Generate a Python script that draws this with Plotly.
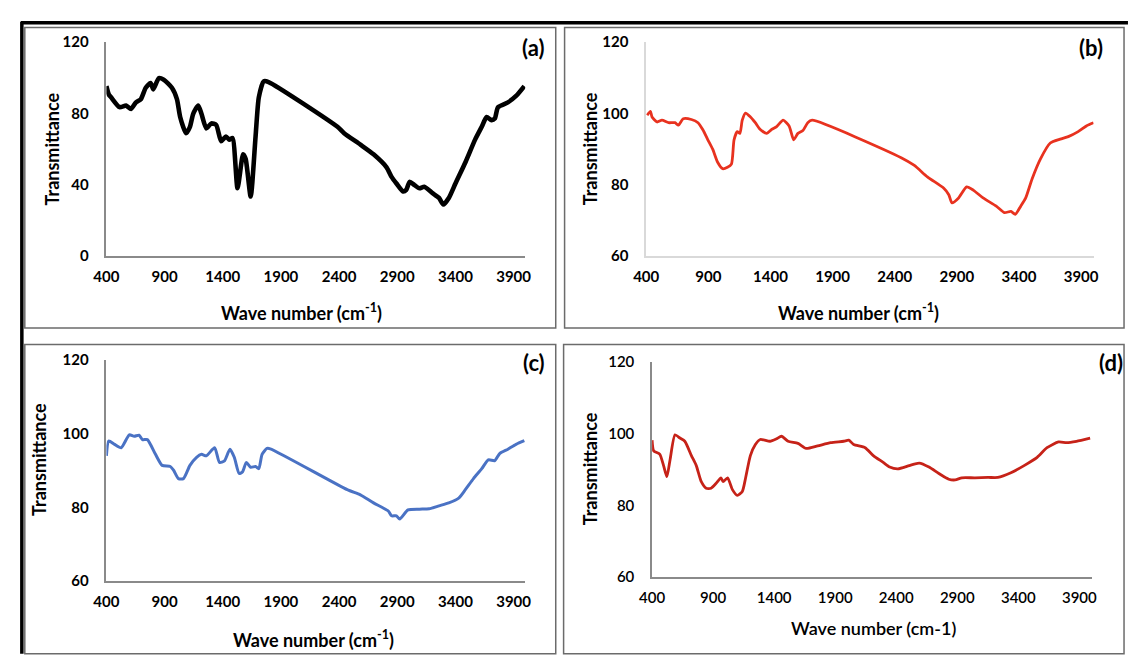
import plotly.graph_objects as go

# ---------------- data ----------------
wn_a = [400, 420, 442, 513, 569, 611, 654, 696, 738, 780, 803, 851, 893, 963, 1006, 1034, 1084, 1118,
        1146, 1189, 1217, 1259, 1302, 1344, 1386, 1428, 1456, 1484, 1527, 1575, 1597, 1640, 1682, 1710,
        1752, 1794, 2386, 2443, 2583, 2696, 2808, 2851, 2893, 2950, 2977, 3006, 3048, 3090, 3132, 3203,
        3259, 3296, 3343, 3400, 3485, 3569, 3626, 3668, 3710, 3738, 3766, 3851, 3921, 3992]
tr_a = [95.3, 90.7, 88.9, 83.5, 84.4, 82.5, 86.2, 88.0, 94.4, 97.0, 93.5, 99.8, 98.9, 94.4, 88.0, 78.0,
        68.9, 72.5, 79.8, 84.4, 79.8, 71.6, 74.4, 73.5, 64.4, 67.1, 65.3, 66.2, 38.0, 57.1, 54.4, 33.4,
        67.0, 89.0, 98.0, 97.6, 72.5, 68.9, 62.5, 57.1, 49.8, 44.4, 40.7, 36.2, 37.1, 41.6, 39.8, 38.0,
        38.9, 35.3, 32.6, 28.9, 32.6, 40.7, 52.5, 65.3, 72.5, 78.0, 76.2, 77.1, 83.5, 86.2, 89.8, 95.3]

wn_b = [408, 434, 447, 487, 527, 580, 632, 659, 698, 764, 817, 856, 896, 936, 975, 1015, 1054, 1086,
        1107, 1133, 1154, 1173, 1199, 1239, 1278, 1318, 1371, 1410, 1450, 1502, 1550, 1587, 1621, 1661,
        1700, 1735, 2452, 2558, 2663, 2795, 2835, 2861, 2914, 2979, 3032, 3111, 3217, 3282, 3335, 3370,
        3414, 3454, 3506, 3572, 3652, 3731, 3797, 3876, 3942, 4000]
tr_b = [99.5, 100.6, 99.0, 97.6, 98.1, 97.4, 97.4, 96.7, 98.5, 98.3, 97.4, 95.4, 92.6, 89.9, 86.3, 84.5,
        84.9, 85.8, 92.6, 94.9, 94.4, 98.1, 100.1, 99.0, 97.4, 95.5, 94.4, 95.5, 96.3, 98.1, 96.5, 92.6,
        94.4, 95.2, 97.4, 98.1, 87.6, 85.4, 82.2, 79.0, 77.2, 74.9, 76.3, 79.4, 78.5, 76.3, 74.0, 72.2,
        72.5, 71.7, 74.0, 76.3, 81.7, 87.2, 91.7, 92.8, 93.5, 94.9, 96.5, 97.4]

wn_c = [400, 420, 470, 527, 597, 639, 681, 710, 752, 822, 879, 949, 977, 1019, 1062, 1118, 1175, 1217,
        1259, 1330, 1372, 1414, 1462, 1499, 1541, 1569, 1603, 1640, 1682, 1710, 1738, 1780, 1809, 2470,
        2583, 2696, 2823, 2851, 2893, 2921, 2992, 3090, 3174, 3259, 3343, 3428, 3485, 3555, 3626, 3682,
        3738, 3780, 3851, 3921, 3992]
tr_c = [94.0, 98.0, 97.1, 96.2, 99.7, 99.3, 99.6, 98.4, 98.4, 94.4, 91.4, 91.1, 90.1, 87.8, 87.8, 91.4,
        93.6, 94.4, 94.0, 96.2, 92.2, 92.6, 95.8, 93.6, 89.2, 89.6, 92.2, 90.9, 91.1, 90.5, 94.4, 96.0,
        95.9, 84.8, 83.4, 81.2, 79.0, 77.7, 77.7, 76.8, 79.3, 79.5, 79.6, 80.4, 81.2, 82.5, 84.8, 87.8,
        90.5, 92.9, 92.7, 94.6, 95.8, 97.1, 98.1]

wn_d = [400, 413, 462, 494, 521, 548, 588, 628, 668, 722, 762, 803, 843, 883, 923, 964, 982, 1018, 1058,
        1098, 1139, 1165, 1205, 1246, 1286, 1366, 1420, 1460, 1514, 1595, 1662, 1756, 1863, 1970, 2011,
        2051, 2145, 2212, 2293, 2346, 2413, 2507, 2588, 2668, 2749, 2830, 2883, 2937, 3044, 3152, 3232,
        3339, 3447, 3554, 3635, 3729, 3796, 3876, 3988]
tr_d = [98.2, 95.2, 94.3, 91.1, 88.0, 92.9, 99.7, 98.8, 97.9, 93.9, 91.1, 86.6, 84.8, 84.8, 86.1, 87.7,
        86.6, 87.7, 84.4, 82.8, 83.9, 87.5, 93.9, 97.0, 98.4, 97.9, 98.6, 99.3, 97.9, 97.3, 95.9, 96.6,
        97.5, 97.9, 98.2, 97.0, 96.1, 93.9, 92.0, 90.7, 90.2, 91.1, 91.8, 90.7, 88.9, 87.3, 87.1, 87.7,
        87.7, 87.8, 87.8, 89.1, 91.1, 93.4, 96.1, 97.7, 97.5, 97.9, 98.8]

x_ticks = [400, 900, 1400, 1900, 2400, 2900, 3400, 3900]
y_ticks_a = [0, 40, 80, 120]
y_ticks_bcd = [60, 80, 100, 120]
panel_labels = ["(a)", "(b)", "(c)", "(d)"]
x_title_sup = "Wave number (cm<sup>-1</sup>)"
x_title_d = "Wave number (cm-1)"
y_title = "Transmittance"

# ---------------- figure ----------------
W, H = 1132, 657
FONT = "Lato"
fig = go.Figure()

def fx(px):
    return px / W

def fy(py):
    return 1 - py / H

panels = [
    dict(x=(95, 521), y=(33, 253), wn=wn_a, tr=tr_a, color="#000000", lw=4.6, yr=[0, 120], yt=y_ticks_a, ac="#8a8a8a", tw="bold"),
    dict(x=(644, 1099), y=(33, 253), wn=wn_b, tr=tr_b, color="#e8321f", lw=2.8, yr=[60, 120], yt=y_ticks_bcd, ac="#d9d9d9", tw="bold"),
    dict(x=(95, 521), y=(360, 587), wn=wn_c, tr=tr_c, color="#4a72c4", lw=3.0, yr=[60, 120], yt=y_ticks_bcd, ac="#8a8a8a", tw="bold"),
    dict(x=(650, 1097), y=(362, 583), wn=wn_d, tr=tr_d, color="#c62218", lw=2.8, yr=[60, 120], yt=y_ticks_bcd, ac="#8a8a8a", tw=600),
]

for i, p in enumerate(panels):
    n = "" if i == 0 else str(i + 1)
    fig.add_trace(go.Scatter(x=p["wn"], y=p["tr"], mode="lines",
                             line=dict(color=p["color"], width=p["lw"], shape="spline", smoothing=0.6),
                             xaxis="x" + n, yaxis="y" + n, showlegend=False, hoverinfo="skip"))
    tickfont = dict(family=FONT, size=15, color="#000000", weight=p["tw"])
    fig.update_layout(**{
        "xaxis" + n: dict(domain=[fx(p["x"][0]), fx(p["x"][1])], range=[400, 4000], anchor="y" + n,
                          tickvals=x_ticks, ticktext=[str(v) for v in x_ticks], showgrid=False, zeroline=False,
                          showline=True, linecolor=p["ac"], linewidth=1.5, ticks="", tickfont=tickfont,
                          ticklabelstandoff=6, fixedrange=True),
        "yaxis" + n: dict(domain=[fy(p["y"][1]), fy(p["y"][0])], range=p["yr"], anchor="x" + n,
                          tickvals=p["yt"], ticktext=[str(v) for v in p["yt"]], showgrid=False, zeroline=False,
                          showline=True, linecolor=p["ac"], linewidth=1.5, ticks="", tickfont=tickfont,
                          ticklabelstandoff=13, fixedrange=True),
    })

# ---------------- annotations ----------------
ann = []
title_font = dict(family=FONT, size=18, color="#000000", weight="bold")
for (xp, yp) in [(40, 143), (587, 143), (27, 462), (587, 472)]:
    ann.append(dict(text=y_title, x=fx(xp), y=fy(yp), xref="paper", yref="paper", showarrow=False,
                    textangle=-90, font=title_font, xanchor="center", yanchor="middle"))
for (txt, xp, yp, wt) in [(x_title_sup, 293, 311, "bold"), (x_title_sup, 860, 310, "bold"),
                          (x_title_sup, 306, 647, "bold"), (x_title_d, 875, 635, 600)]:
    ann.append(dict(text=txt, x=fx(xp), y=fy(yp), xref="paper", yref="paper", showarrow=False,
                    font=dict(family=FONT, size=18, color="#000000", weight=wt),
                    xanchor="center", yanchor="middle"))
for (txt, xp, yp) in zip(panel_labels, [529, 1096, 530, 1117], [39, 39, 362, 362]):
    ann.append(dict(text=txt, x=fx(xp), y=fy(yp), xref="paper", yref="paper", showarrow=False,
                    font=dict(family=FONT, size=22, color="#000000", weight="bold"),
                    xanchor="center", yanchor="middle"))

# ---------------- frame shapes ----------------
shapes = []
grey = "#6b6b6b"
for (x0, y0, x1, y1) in [(12, 18, 552, 327), (561, 18, 1130, 327), (12, 344, 552, 662), (560, 344, 1130, 662)]:
    shapes.append(dict(type="rect", xref="paper", yref="paper", x0=fx(x0), x1=fx(x1), y0=fy(y1), y1=fy(y0),
                       line=dict(color=grey, width=1.5), fillcolor="rgba(0,0,0,0)", layer="below"))
shapes.append(dict(type="line", xref="paper", yref="paper", x0=fx(8), x1=fx(1134), y0=fy(13), y1=fy(13),
                   line=dict(color="#000000", width=3.5)))
shapes.append(dict(type="line", xref="paper", yref="paper", x0=fx(9), x1=fx(9), y0=fy(12), y1=fy(662),
                   line=dict(color="#000000", width=3.5)))

fig.update_layout(width=W, height=H, margin=dict(l=0, r=0, t=0, b=0), paper_bgcolor="#ffffff",
                  plot_bgcolor="rgba(0,0,0,0)", annotations=ann, shapes=shapes, showlegend=False)

fig.write_html("out.html", config={"displayModeBar": False},
               post_script="document.body.style.margin='0';document.body.style.overflow='hidden';")
